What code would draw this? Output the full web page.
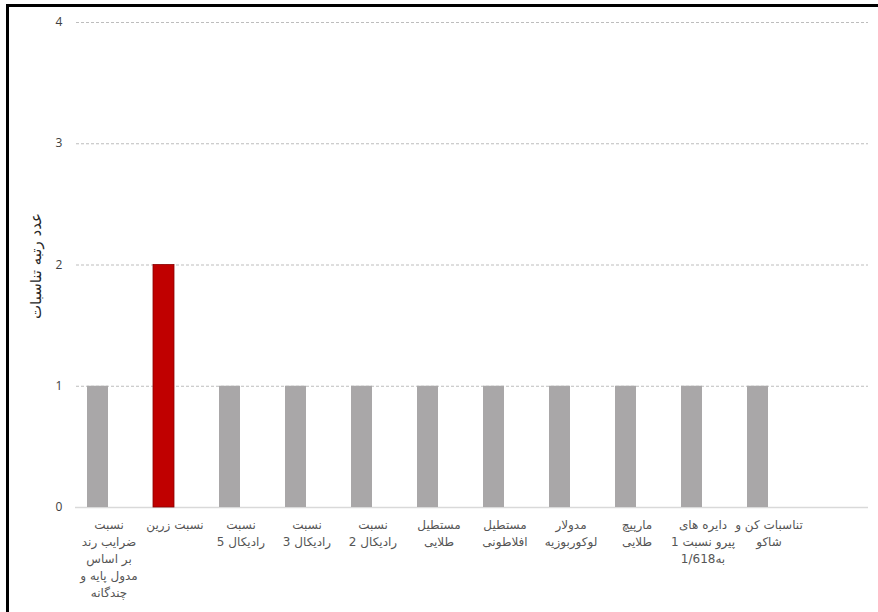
<!DOCTYPE html>
<html>
<head>
<meta charset="utf-8">
<script src="https://cdn.jsdelivr.net/npm/d3@7"></script>
<style>
  body { margin: 0; background: #fff; }
  text { font-family: "DejaVu Sans", "Liberation Sans", sans-serif; }
</style>
</head>
<body>
<div id="chart"></div>
<script>
// categories (line breaks as in the original labels), last slot is empty
const categories = [
  "نسبت\nضرایب رند\nبر اساس\nمدول پایه و\nچندگانه",
  "نسبت زرین",
  "نسبت\nرادیکال 5",
  "نسبت\nرادیکال 3",
  "نسبت\nرادیکال 2",
  "مستطیل\nطلایی",
  "مستطیل\nافلاطونی",
  "مدولار\nلوکوربوزیه",
  "مارپیچ\nطلایی",
  "دایره های\nپیرو نسبت 1\nبه1/618",
  "تناسبات کن و\nشاکو",
  ""
];
const values = [1, 2, 1, 1, 1, 1, 1, 1, 1, 1, 1, null];
const highlight = ["نسبت زرین"];
const yTicks = [0, 1, 2, 3, 4];
const yTitle = "عدد رتبه تناسبات";

const width = 878,
  height = 612;
const margin = { top: 22, right: 10, bottom: 105, left: 76 };

const svg = d3
  .select("#chart")
  .append("svg")
  .attr("width", width)
  .attr("height", height);

// outer frame
svg
  .append("rect")
  .attr("x", 7.5)
  .attr("y", 5.5)
  .attr("width", width + 20)
  .attr("height", height + 20)
  .attr("fill", "none")
  .attr("stroke", "#000")
  .attr("stroke-width", 3);

const x = d3
  .scaleBand()
  .domain(categories)
  .range([margin.left, 868])
  .padding(0);

const y = d3
  .scaleLinear()
  .domain([0, 4])
  .range([height - margin.bottom, margin.top]);

// dashed gridlines (not at 0)
svg
  .selectAll(".grid")
  .data(yTicks.filter((d) => d > 0))
  .join("line")
  .attr("x1", margin.left)
  .attr("x2", 868)
  .attr("y1", (d) => y(d) + 0.5)
  .attr("y2", (d) => y(d) + 0.5)
  .attr("stroke", "#bdbdbd")
  .attr("stroke-width", 1)
  .attr("stroke-dasharray", "3,2");

// baseline
svg
  .append("line")
  .attr("x1", margin.left - 1)
  .attr("x2", 868)
  .attr("y1", y(0) + 0.5)
  .attr("y2", y(0) + 0.5)
  .attr("stroke", "#d9d9d9")
  .attr("stroke-width", 1.5);

// y tick labels
svg
  .selectAll(".ytick")
  .data(yTicks)
  .join("text")
  .attr("x", 59)
  .attr("y", (d) => y(d))
  .attr("dy", "0.35em")
  .attr("text-anchor", "middle")
  .style("font-family", "'Open Sans', 'Liberation Sans', sans-serif")
  .style("font-size", "12px")
  .attr("fill", "#404040")
  .text((d) => d);

// bars sit in the left part of each category slot
const barW = 21;
const data = categories.map((c, i) => ({ cat: c, value: values[i] }));

svg
  .selectAll(".bar")
  .data(data.filter((d) => d.value != null))
  .join("rect")
  .attr("x", (d) => x(d.cat) + x.bandwidth() / 2 - barW - 1)
  .attr("y", (d) => y(d.value))
  .attr("width", barW)
  .attr("height", (d) => y(0) - y(d.value))
  .attr("fill", (d) => (highlight.includes(d.cat) ? "#c00000" : "#a9a7a8"))
  .attr("stroke", (d) => (highlight.includes(d.cat) ? "#8b0000" : "none"))
  .attr("stroke-width", 0.8);

// category labels
const lbl = svg
  .selectAll(".xlabel")
  .data(categories)
  .join("text")
  .attr("text-anchor", "middle")
  .attr("direction", "rtl")
  .style("font-size", "12px")
  .attr("fill", "#555")
  .attr("transform", (d) => `translate(${x(d) + x.bandwidth() / 2},${y(0) + 22})`);

lbl
  .selectAll("tspan")
  .data((d) => d.split("\n"))
  .join("tspan")
  .attr("x", 0)
  .attr("y", (d, i) => i * 17)
  .text((d) => d);

// y axis title
svg
  .append("text")
  .attr("transform", `translate(41,266) rotate(-90)`)
  .attr("text-anchor", "middle")
  .attr("direction", "rtl")
  .style("font-size", "15px")
  .attr("fill", "#262626")
  .text(yTitle);
</script>
</body>
</html>
